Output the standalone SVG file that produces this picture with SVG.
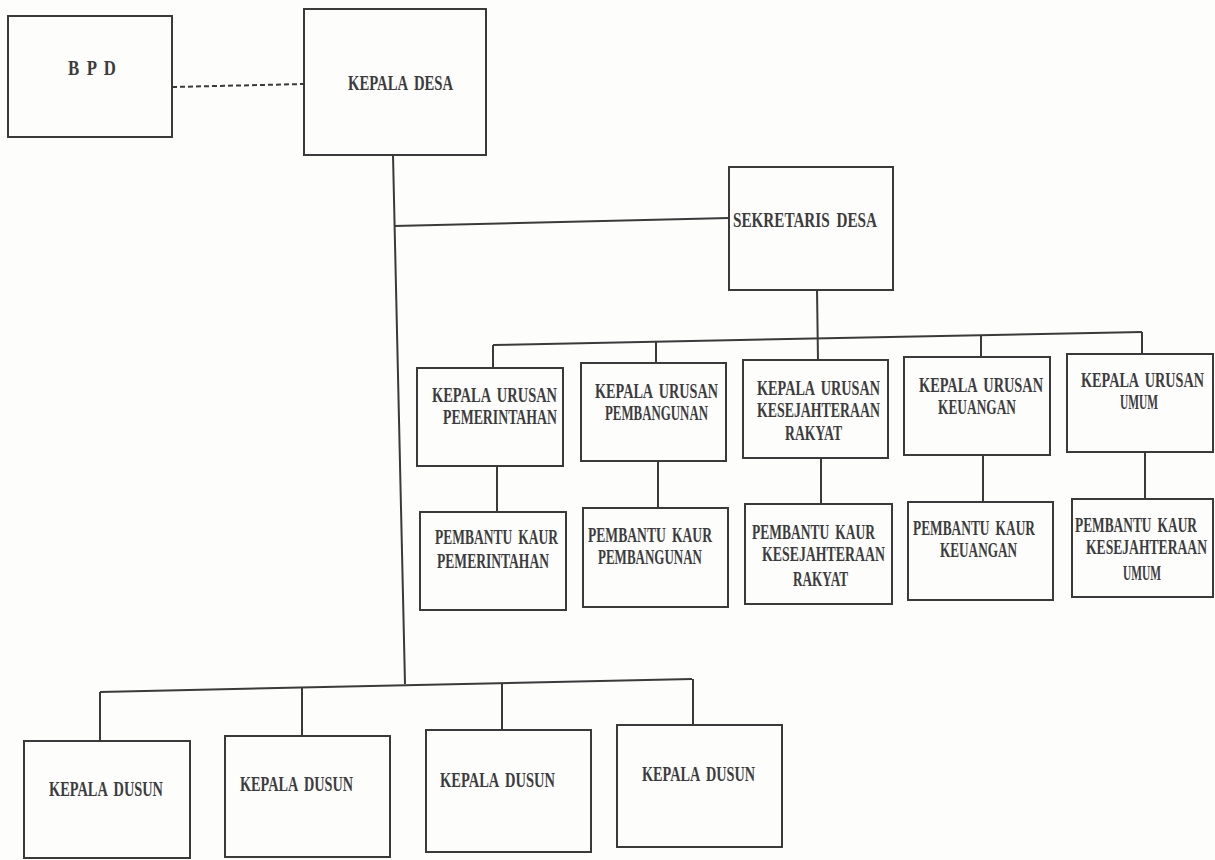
<svg xmlns="http://www.w3.org/2000/svg" width="1215" height="860" viewBox="0 0 1215 860">
<style>
.bg{fill:#fdfdfc}
.box{fill:none;stroke:#3a3a3a;stroke-width:2}
.ln{fill:none;stroke:#3a3a3a;stroke-width:2}
.dash{stroke-dasharray:5 3}
text{font-family:"Liberation Serif","DejaVu Serif",serif;font-size:14.5px;font-weight:bold;fill:#3c3c3c;word-spacing:3px}
</style>
<rect class="bg" x="0" y="0" width="1215" height="860"/>
<g id="connectors">
<path class="ln dash" d="M172 87 L305 84"/>
<path class="ln" d="M393 155 L405 684"/>
<path class="ln" d="M394 226 L729 218"/>
<path class="ln" d="M817 289 L818 361"/>
<path class="ln" d="M493 345 L1142 332"/>
<path class="ln" d="M493 345 V369 M656 342 V364 M981 335 V358 M1142 332 V355"/>
<path class="ln" d="M497 466 V513 M658 462 V508 M821 458 V505 M983 455 V503 M1145 452 V500"/>
<path class="ln" d="M100 692 L692 679"/>
<path class="ln" d="M100 692 V741 M302 688 V736 M502 684 V730 M693 679 V725"/>
</g>
<g id="bpd"><rect class="box" x="8" y="16" width="164" height="121"/><text transform="translate(68 75) scale(1 1.5)" textLength="48" lengthAdjust="spacingAndGlyphs">B P D</text></g>
<g id="kepala-desa"><rect class="box" x="304" y="9" width="182" height="146"/><text transform="translate(348 90) scale(1 1.5)" textLength="105" lengthAdjust="spacingAndGlyphs">KEPALA DESA</text></g>
<g id="sekretaris-desa"><rect class="box" x="729" y="167" width="164" height="123"/><text transform="translate(733 227) scale(1 1.5)" textLength="144" lengthAdjust="spacingAndGlyphs">SEKRETARIS DESA</text></g>
<g id="kaur-pemerintahan"><rect class="box" x="417" y="368" width="146" height="98"/><text transform="translate(432 402) scale(1 1.5)" textLength="125" lengthAdjust="spacingAndGlyphs">KEPALA URUSAN</text><text transform="translate(443 424) scale(1 1.5)" textLength="114" lengthAdjust="spacingAndGlyphs">PEMERINTAHAN</text></g>
<g id="kaur-pembangunan"><rect class="box" x="581" y="363" width="145" height="98"/><text transform="translate(595 398) scale(1 1.5)" textLength="123" lengthAdjust="spacingAndGlyphs">KEPALA URUSAN</text><text transform="translate(605 420) scale(1 1.5)" textLength="103" lengthAdjust="spacingAndGlyphs">PEMBANGUNAN</text></g>
<g id="kaur-kesra"><rect class="box" x="743" y="360" width="145" height="98"/><text transform="translate(757 395) scale(1 1.5)" textLength="123" lengthAdjust="spacingAndGlyphs">KEPALA URUSAN</text><text transform="translate(757 417) scale(1 1.5)" textLength="123" lengthAdjust="spacingAndGlyphs">KESEJAHTERAAN</text><text transform="translate(785 440) scale(1 1.5)" textLength="57" lengthAdjust="spacingAndGlyphs">RAKYAT</text></g>
<g id="kaur-keuangan"><rect class="box" x="904" y="357" width="146" height="98"/><text transform="translate(919 392) scale(1 1.5)" textLength="124" lengthAdjust="spacingAndGlyphs">KEPALA URUSAN</text><text transform="translate(938 414) scale(1 1.5)" textLength="78" lengthAdjust="spacingAndGlyphs">KEUANGAN</text></g>
<g id="kaur-umum"><rect class="box" x="1067" y="354" width="146" height="98"/><text transform="translate(1081 387) scale(1 1.5)" textLength="123" lengthAdjust="spacingAndGlyphs">KEPALA URUSAN</text><text transform="translate(1120 409) scale(1 1.5)" textLength="38" lengthAdjust="spacingAndGlyphs">UMUM</text></g>
<g id="pk-pemerintahan"><rect class="box" x="420" y="512" width="146" height="98"/><text transform="translate(435 544) scale(1 1.5)" textLength="123" lengthAdjust="spacingAndGlyphs">PEMBANTU KAUR</text><text transform="translate(437 568) scale(1 1.5)" textLength="112" lengthAdjust="spacingAndGlyphs">PEMERINTAHAN</text></g>
<g id="pk-pembangunan"><rect class="box" x="583" y="508" width="145" height="99"/><text transform="translate(588 542) scale(1 1.5)" textLength="124" lengthAdjust="spacingAndGlyphs">PEMBANTU KAUR</text><text transform="translate(598 564) scale(1 1.5)" textLength="104" lengthAdjust="spacingAndGlyphs">PEMBANGUNAN</text></g>
<g id="pk-kesra"><rect class="box" x="745" y="504" width="147" height="100"/><text transform="translate(752 539) scale(1 1.5)" textLength="123" lengthAdjust="spacingAndGlyphs">PEMBANTU KAUR</text><text transform="translate(762 561) scale(1 1.5)" textLength="123" lengthAdjust="spacingAndGlyphs">KESEJAHTERAAN</text><text transform="translate(793 586) scale(1 1.5)" textLength="55" lengthAdjust="spacingAndGlyphs">RAKYAT</text></g>
<g id="pk-keuangan"><rect class="box" x="908" y="502" width="145" height="98"/><text transform="translate(913 535) scale(1 1.5)" textLength="122" lengthAdjust="spacingAndGlyphs">PEMBANTU KAUR</text><text transform="translate(940 557) scale(1 1.5)" textLength="77" lengthAdjust="spacingAndGlyphs">KEUANGAN</text></g>
<g id="pk-umum"><rect class="box" x="1072" y="499" width="141" height="98"/><text transform="translate(1075 532) scale(1 1.5)" textLength="122" lengthAdjust="spacingAndGlyphs">PEMBANTU KAUR</text><text transform="translate(1086 554) scale(1 1.5)" textLength="121" lengthAdjust="spacingAndGlyphs">KESEJAHTERAAN</text><text transform="translate(1123 580) scale(1 1.5)" textLength="38" lengthAdjust="spacingAndGlyphs">UMUM</text></g>
<g id="dusun-1"><rect class="box" x="24" y="741" width="166" height="117"/><text transform="translate(49 796) scale(1 1.5)" textLength="114" lengthAdjust="spacingAndGlyphs">KEPALA DUSUN</text></g>
<g id="dusun-2"><rect class="box" x="225" y="736" width="165" height="121"/><text transform="translate(240 791) scale(1 1.5)" textLength="113" lengthAdjust="spacingAndGlyphs">KEPALA DUSUN</text></g>
<g id="dusun-3"><rect class="box" x="426" y="730" width="165" height="122"/><text transform="translate(440 787) scale(1 1.5)" textLength="115" lengthAdjust="spacingAndGlyphs">KEPALA DUSUN</text></g>
<g id="dusun-4"><rect class="box" x="617" y="725" width="165" height="122"/><text transform="translate(642 781) scale(1 1.5)" textLength="113" lengthAdjust="spacingAndGlyphs">KEPALA DUSUN</text></g>
</svg>
